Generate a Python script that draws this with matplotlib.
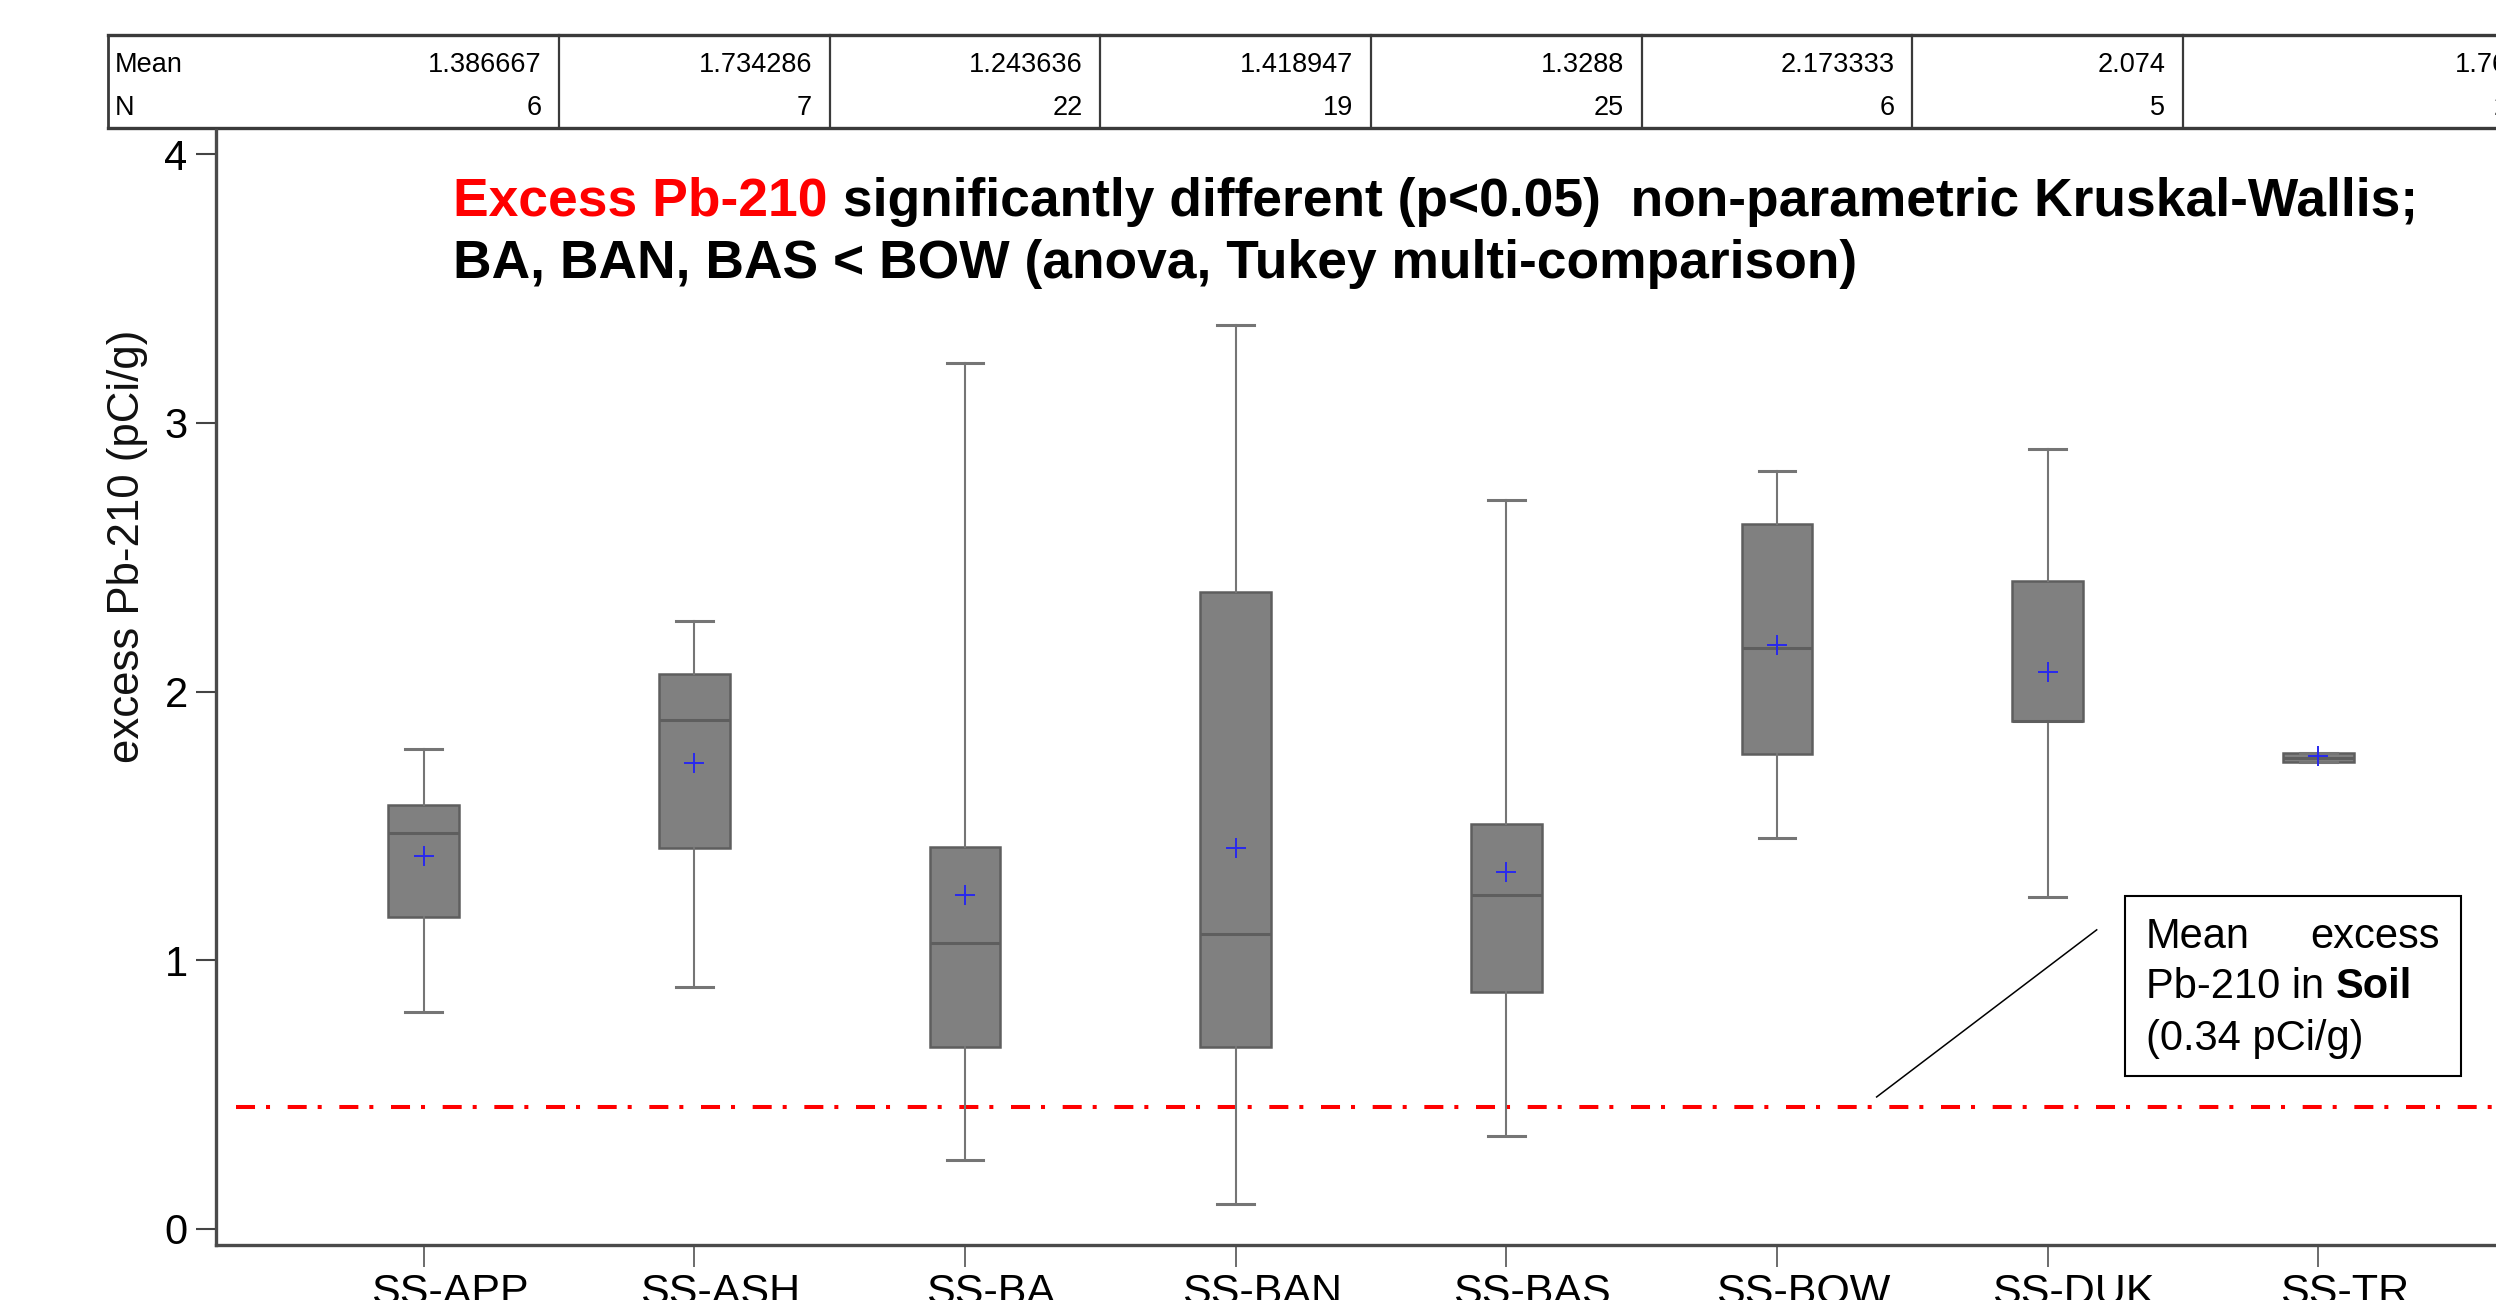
import matplotlib
matplotlib.use('Agg')
import matplotlib.pyplot as plt
from matplotlib.transforms import blended_transform_factory, ScaledTranslation
from matplotlib.patches import Rectangle
from matplotlib.lines import Line2D

plt.rcParams['font.family'] = ['Liberation Sans', 'DejaVu Sans']
plt.rcParams['lines.scale_dashes'] = False

# ---------------- data ----------------
categories = ['SS-APP', 'SS-ASH', 'SS-BA', 'SS-BAN', 'SS-BAS', 'SS-BOW', 'SS-DUK', 'SS-TR']
mean_labels = ['1.386667', '1.734286', '1.243636', '1.418947', '1.3288', '2.173333', '2.074', '1.76']
means = [1.386667, 1.734286, 1.243636, 1.418947, 1.3288, 2.173333, 2.074, 1.76]
n_labels = ['6', '7', '22', '19', '25', '6', '5', '2']
whisker_low = [0.808, 0.900, 0.256, 0.093, 0.347, 1.456, 1.234, 1.736]
q1 = [1.160, 1.416, 0.676, 0.676, 0.883, 1.768, 1.892, 1.736]
median = [1.473, 1.893, 1.064, 1.097, 1.242, 2.163, 1.892, 1.754]
q3 = [1.578, 2.065, 1.423, 2.369, 1.507, 2.623, 2.411, 1.772]
whisker_high = [1.786, 2.261, 3.224, 3.364, 2.713, 2.822, 2.903, 1.772]
soil_line_value = 0.453
y_ticks = [0, 1, 2, 3, 4]

# ---------------- figure ----------------
W, H = 2496, 1300
fig = plt.figure(figsize=(W / 100, H / 100), dpi=100)


def fx(px):
    return px / W


def fy(py):
    return 1 - py / H


ax = fig.add_axes([fx(216), fy(1245), fx(2526) - fx(216), fy(130) - fy(1245)])
positions = list(range(1, len(categories) + 1))
stats = []
for c, lo, a, m, b, hi, mu in zip(categories, whisker_low, q1, median, q3, whisker_high, means):
    stats.append(dict(label=c, whislo=lo, q1=a, med=m, q3=b, whishi=hi, mean=mu))

ax.bxp(stats, positions=positions, widths=0.262, capwidths=0.135,
       showmeans=True, meanline=False, patch_artist=True, showfliers=False,
       boxprops=dict(facecolor='#808080', edgecolor='#5e5e5e', linewidth=1.8),
       medianprops=dict(color='#5e5e5e', linewidth=2.2),
       whiskerprops=dict(color='#757575', linewidth=1.5),
       capprops=dict(color='#757575', linewidth=2.2),
       meanprops=dict(marker='+', markersize=14, markeredgecolor='#2828ee',
                      markerfacecolor='none', markeredgewidth=1.4))

xmin, xmax = 0.233, 8.767
ax.set_xlim(xmin, xmax)
ax.set_ylim(-0.06, 4.09)
ax.set_yticks(y_ticks)
ax.set_yticklabels([str(t) for t in y_ticks])
ax.set_xticks(positions)
ax.set_xticklabels(categories)

for s in ['top', 'right']:
    ax.spines[s].set_visible(False)
for s in ['left', 'bottom']:
    ax.spines[s].set_linewidth(2.4)
    ax.spines[s].set_color('#4a4a4a')

ax.tick_params(axis='y', length=14.4, width=1.5, labelsize=30, pad=6, color='#444444')
ax.tick_params(axis='x', length=16, width=1.1, labelsize=31, pad=4, color='#444444')
shift = ScaledTranslation(0.26, 0, fig.dpi_scale_trans)
for lab in ax.get_xticklabels():
    lab.set_transform(lab.get_transform() + shift)

ax.set_ylabel('excess Pb-210 (pCi/g)', fontsize=31.5, color='#111111')
ax.yaxis.set_label_coords((127 - 216) / 2310, (1245 - 546) / 1115)
ax.yaxis.label.set_verticalalignment('center')

# soil mean reference line (dash-dot)
ax.plot([0.307, xmax], [soil_line_value, soil_line_value], color='#ff0000', lw=2.9,
        dashes=(13.7, 7.9, 2.9, 12.7), solid_capstyle='butt', dash_capstyle='butt', zorder=1)

# leader line to annotation
ax.plot([7.181, 6.368], [1.113, 0.491], color='black', lw=1.1, zorder=3)

# ---------------- statistics table on top ----------------
trans = blended_transform_factory(ax.transData, fig.transFigure)
t_left, t_right = -0.166, xmax
t_top, t_bot = fy(35), fy(128)
tbl_col = '#3a3a3a'
for yy in (t_top, t_bot):
    ax.add_line(Line2D([t_left, t_right], [yy, yy], transform=trans, color=tbl_col,
                       lw=2.4, clip_on=False))
ax.add_line(Line2D([t_left, t_left], [t_top, t_bot], transform=trans, color=tbl_col,
                   lw=2.0, clip_on=False))
col_right = [p + 0.5 for p in positions[:-1]] + [xmax]
for xr in col_right[:-1]:
    ax.add_line(Line2D([xr, xr], [t_top, t_bot], transform=trans, color=tbl_col,
                       lw=1.6, clip_on=False))
ax.text(t_left + 0.026, fy(71.7), 'Mean', transform=trans, fontsize=19.5,
        ha='left', va='baseline', clip_on=False)
ax.text(t_left + 0.026, fy(115), 'N', transform=trans, fontsize=19.5,
        ha='left', va='baseline', clip_on=False)
for xr, m, nn in zip(col_right, mean_labels, n_labels):
    ax.text(xr - 0.065, fy(71.7), m, transform=trans, fontsize=19.5,
            ha='right', va='baseline', clip_on=False)
    ax.text(xr - 0.065, fy(115), nn, transform=trans, fontsize=19.5,
            ha='right', va='baseline', clip_on=False)

# ---------------- title text ----------------
t1 = ax.text(fx(453), fy(216), 'Excess Pb-210', color='#ff0000', fontsize=38.4,
             fontweight='bold', ha='left', va='baseline', transform=fig.transFigure,
             clip_on=False)
ax.annotate(' significantly different (p<0.05)  non-parametric Kruskal-Wallis;',
            xy=(1, 0), xycoords=t1, ha='left', va='bottom', fontsize=38.4,
            fontweight='bold', color='black', annotation_clip=False)
ax.text(fx(453), fy(278), 'BA, BAN, BAS < BOW (anova, Tukey multi-comparison)',
        color='black', fontsize=38.4, fontweight='bold', ha='left', va='baseline',
        transform=fig.transFigure, clip_on=False)

# ---------------- annotation box ----------------
ax.add_patch(Rectangle((fx(2125), fy(1076)), fx(2461) - fx(2125), fy(896) - fy(1076),
                       transform=fig.transFigure, facecolor='white',
                       edgecolor='black', lw=1.5, zorder=5, clip_on=False))
ax.text(fx(2146), fy(948), 'Mean', fontsize=30, ha='left', va='baseline', zorder=6,
        transform=fig.transFigure, clip_on=False)
ax.text(fx(2440), fy(948), 'excess', fontsize=30, ha='right', va='baseline', zorder=6,
        transform=fig.transFigure, clip_on=False)
a1 = ax.text(fx(2146), fy(998), 'Pb-210 in ', fontsize=30, ha='left', va='baseline',
             zorder=6, transform=fig.transFigure, clip_on=False)
ax.annotate('Soil', xy=(1, 0), xycoords=a1, ha='left', va='bottom', fontsize=30,
            fontweight='bold', annotation_clip=False, zorder=7)
ax.text(fx(2146), fy(1050), '(0.34 pCi/g)', fontsize=30, ha='left', va='baseline', zorder=6,
        transform=fig.transFigure, clip_on=False)

fig.savefig('out.png', dpi=100)
